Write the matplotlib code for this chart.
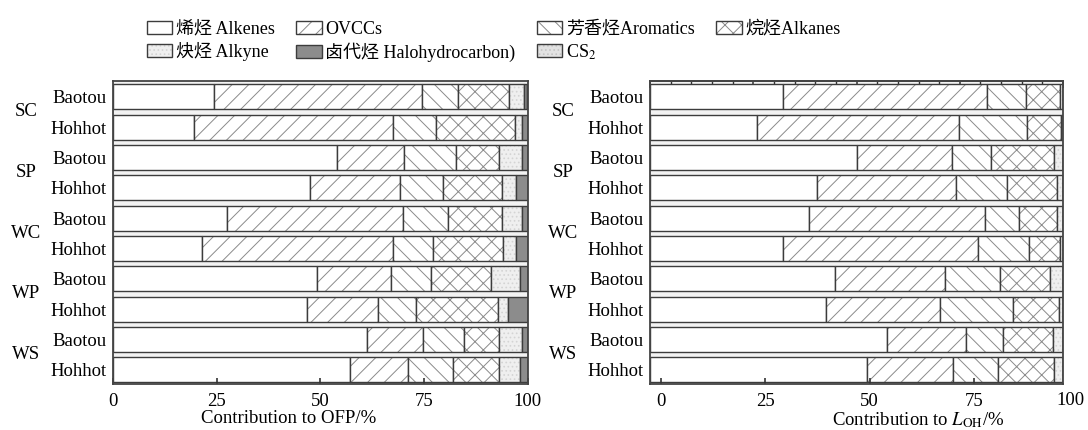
import numpy as np
import matplotlib
matplotlib.use("Agg")
import matplotlib.pyplot as plt
import matplotlib.transforms as mtransforms
from matplotlib.patches import Patch
from matplotlib.legend_handler import HandlerTuple
from matplotlib.ticker import MultipleLocator

plt.rcParams['font.family'] = ['Liberation Serif', 'Noto Sans CJK SC']
plt.rcParams['mathtext.fontset'] = 'stix'
plt.rcParams['hatch.linewidth'] = 0.7

# rows, top to bottom
groups = ['SC', 'SP', 'WC', 'WP', 'WS']
cities = ['Baotou', 'Hohhot']
categories = ['烯烃 Alkenes', 'OVCCs', '芳香烃Aromatics', '烷烃Alkanes',
              '炔烃 Alkyne', '卤代烃 Halohydrocarbon)', 'CS$_2$']

# contribution to OFP (%)
alkenes_ofp = [24.4, 19.6, 53.9, 47.4, 27.5, 21.3, 49.2, 46.8, 61.2, 57.2]
ovccs_ofp = [50.0, 48.0, 16.3, 21.8, 42.5, 46.3, 17.7, 17.2, 13.6, 14.0]
aromatics_ofp = [8.7, 10.2, 12.4, 10.4, 10.7, 9.5, 9.7, 9.0, 9.9, 10.9]
alkanes_ofp = [12.5, 19.1, 10.4, 14.3, 13.0, 16.9, 14.5, 19.9, 8.4, 11.1]
alkyne_ofp = [3.4, 1.7, 5.7, 3.4, 5.0, 3.3, 7.0, 2.4, 5.6, 4.9]
halo_ofp = [0.8, 1.4, 1.3, 2.7, 1.3, 2.7, 1.9, 4.7, 1.3, 1.9]
cs2_ofp = [0, 0, 0, 0, 0, 0, 0, 0, 0, 0]

# contribution to L_OH (%)
alkenes_loh = [32.2, 25.8, 50.2, 40.4, 38.5, 32.1, 44.7, 42.7, 57.3, 52.5]
ovccs_loh = [49.4, 49.1, 22.8, 33.6, 42.6, 47.4, 26.8, 27.6, 19.3, 20.9]
aromatics_loh = [9.3, 16.3, 9.5, 12.3, 8.2, 12.2, 13.3, 17.6, 8.8, 10.8]
alkanes_loh = [8.3, 8.2, 15.2, 12.3, 9.3, 7.6, 12.1, 11.2, 12.2, 13.7]
alkyne_loh = [0.8, 0.6, 2.3, 1.4, 1.4, 0.7, 3.1, 0.9, 2.4, 2.1]
halo_loh = [0, 0, 0, 0, 0, 0, 0, 0, 0, 0]
cs2_loh = [0, 0, 0, 0, 0, 0, 0, 0, 0, 0]

# face colour, hatch, hatch colour
styles = [
    ('white', '', '#888888'),
    ('white', '//', '#8a8a8a'),
    ('white', '\\\\', '#8a8a8a'),
    ('white', 'xx', '#8a8a8a'),
    ('#efefef', '....', '#d4d4d4'),
    ('#8c8c8c', '', '#8c8c8c'),
    ('#e2e2e2', '....', '#c4c4c4'),
]
EDGE = '#3c3c3c'
BAR_H = 0.82

fig = plt.figure(figsize=(10.88, 4.30), dpi=100)
ax1 = fig.add_axes([0.1041, 0.1063, 0.3809, 0.7053])
ax2 = fig.add_axes([0.5975, 0.1063, 0.3796, 0.7053])

row_labels = [c for g in groups for c in cities]
y = np.arange(len(row_labels))


def draw_panel(ax, series):
    left = np.zeros(len(y))
    for vals, (fc, hatch, hc) in zip(series, styles):
        vals = np.asarray(vals, dtype=float)
        ax.barh(y, vals, left=left, height=BAR_H, color=fc, hatch=hatch,
                edgecolor=hc, linewidth=0)
        ax.barh(y, vals, left=left, height=BAR_H, fill=False,
                edgecolor=EDGE, linewidth=1.0)
        left += vals
    ax.set_facecolor('#f2f2f2')
    ax.set_ylim(len(y) - 0.52, -0.52)
    ax.set_xlim(0, 100)
    ax.set_yticks(y, row_labels, fontsize=13.5)
    ax.tick_params(axis='y', length=0, pad=5)
    for s in ax.spines.values():
        s.set_color('#444444')
        s.set_linewidth(1.3)
    trans = mtransforms.blended_transform_factory(ax.transAxes, ax.transData)
    for i, g in enumerate(groups):
        ax.text(-0.211, 2 * i + 0.5, g, transform=trans, ha='center',
                va='center', fontsize=13.5)


draw_panel(ax1, [alkenes_ofp, ovccs_ofp, aromatics_ofp, alkanes_ofp,
                 alkyne_ofp, halo_ofp, cs2_ofp])
draw_panel(ax2, [alkenes_loh, ovccs_loh, aromatics_loh, alkanes_loh,
                 alkyne_loh, halo_loh, cs2_loh])

xticks = [0, 25, 50, 75, 100]
ax1.set_xticks(xticks, [str(t) for t in xticks], fontsize=13.5)
ax1.tick_params(axis='x', direction='in', length=4, width=1.2, pad=6,
                color='#333333')
ax1.set_xlabel('Contribution to OFP/%', fontsize=13.5)
ax1.xaxis.set_label_coords(0.4235, -0.085)

# right panel: bottom labels sit a little to the right of the true scale
shift, stretch = 2.7, 1.009
pos = [shift + stretch * t for t in xticks]
ax2.set_xticks(pos[:-1], [str(t) for t in xticks[:-1]], fontsize=13.5)
ax2.tick_params(axis='x', direction='in', length=4, width=1.2, pad=6,
                color='#333333')
ax2.text(101.9, -0.024, str(xticks[-1]),
         transform=mtransforms.blended_transform_factory(ax2.transData, ax2.transAxes),
         ha='center', va='top', fontsize=13.5)
ax2.set_xlabel('Contribution to $L_{\\mathrm{OH}}$/%', fontsize=13.5)
ax2.xaxis.set_label_coords(0.65, -0.085)

top = ax2.secondary_xaxis('top')
top.set_xticks(xticks)
top.xaxis.set_minor_locator(MultipleLocator(5))
top.tick_params(which='major', direction='in', length=5, width=1.1,
                labeltop=False, color='#333333')
top.tick_params(which='minor', direction='in', length=3, width=1.0,
                color='#333333')
top.spines['top'].set_color('#444444')
top.spines['top'].set_linewidth(1.3)

handles = []
for fc, hatch, hc in styles:
    handles.append((Patch(facecolor=fc, hatch=hatch, edgecolor=hc, linewidth=0),
                    Patch(fill=False, edgecolor=EDGE, linewidth=1.0)))
order = [0, 4, 1, 5, 2, 6, 3]
fig.legend([handles[i] for i in order], [categories[i] for i in order],
           handler_map={tuple: HandlerTuple(ndivide=1, pad=0)},
           ncol=4, loc='upper left', bbox_to_anchor=(0.135, 0.952),
           frameon=False, fontsize=13, handlelength=1.4, handleheight=0.75,
           handletextpad=0.2, columnspacing=1.2, labelspacing=0.25,
           borderpad=0, borderaxespad=0)

fig.savefig('out.png', dpi=100)
